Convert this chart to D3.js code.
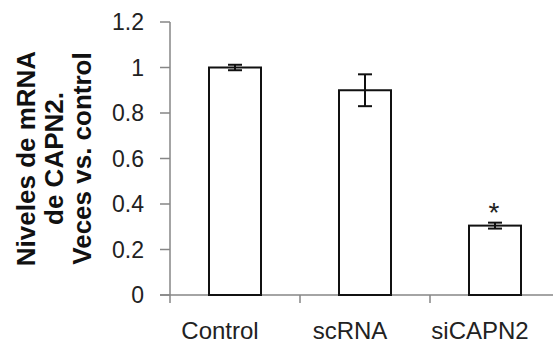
<!DOCTYPE html>
<html>
<head>
<meta charset="utf-8">
<script src="https://cdn.jsdelivr.net/npm/d3@7"></script>
<style>
  body { margin: 0; background: #fff; }
  svg { display: block; font-family: "Liberation Sans", Arial, sans-serif; }
</style>
</head>
<body>
<svg id="chart" width="553" height="346"></svg>
<script>
var categories = ["Control", "scRNA", "siCAPN2"];
var values = [1.0, 0.9, 0.305];
var errors = [0.012, 0.07, 0.013];
var marks = ["", "", "*"];
var yTicks = [0, 0.2, 0.4, 0.6, 0.8, 1, 1.2];
var yLabelLines = ["Niveles de mRNA", "de CAPN2.", "Veces vs. control"];

var svg = d3.select("#chart");
var plotLeft = 170, plotRight = 560, plotTop = 22, plotBottom = 295;

var x = d3.scaleBand().domain(categories).range([plotLeft, plotRight]).padding(0);
var y = d3.scaleLinear().domain([0, 1.2]).range([plotBottom, plotTop]);
var barW = x.bandwidth() * 0.4;
var axisColor = "#868686";

// y axis
svg.append("line")
  .attr("x1", plotLeft).attr("x2", plotLeft)
  .attr("y1", y(1.2)).attr("y2", y(0))
  .attr("stroke", axisColor).attr("stroke-width", 1.5);
yTicks.forEach(function(t){
  svg.append("line")
    .attr("x1", plotLeft - 10).attr("x2", plotLeft)
    .attr("y1", y(t)).attr("y2", y(t))
    .attr("stroke", axisColor).attr("stroke-width", 1.5);
  svg.append("text")
    .attr("x", 144).attr("y", y(t))
    .attr("dy", "0.35em")
    .attr("text-anchor", "end")
    .attr("font-size", "23px")
    .attr("fill", "#222")
    .text(t);
});

// x axis
svg.append("line")
  .attr("x1", plotLeft - 10).attr("x2", 553)
  .attr("y1", y(0)).attr("y2", y(0))
  .attr("stroke", axisColor).attr("stroke-width", 1.5);
categories.forEach(function(c){
  svg.append("line")
    .attr("x1", x(c)).attr("x2", x(c))
    .attr("y1", y(0)).attr("y2", y(0) + 8)
    .attr("stroke", axisColor).attr("stroke-width", 1.5);
  svg.append("text")
    .attr("x", x(c) + x.bandwidth() / 2 - 15)
    .attr("y", 339)
    .attr("text-anchor", "middle")
    .attr("font-size", "24px")
    .attr("fill", "#222")
    .text(c);
});

// bars
categories.forEach(function(c, i){
  var cx = x(c) + x.bandwidth() / 2;
  svg.append("rect")
    .attr("x", cx - barW / 2)
    .attr("y", y(values[i]))
    .attr("width", barW)
    .attr("height", y(0) - y(values[i]))
    .attr("fill", "#fff")
    .attr("stroke", "#111")
    .attr("stroke-width", 2);

  var hi = y(values[i] + errors[i]), lo = y(values[i] - errors[i]);
  svg.append("line")
    .attr("x1", cx).attr("x2", cx).attr("y1", hi).attr("y2", lo)
    .attr("stroke", "#111").attr("stroke-width", 2);
  [hi, lo].forEach(function(v){
    svg.append("line")
      .attr("x1", cx - 7).attr("x2", cx + 7).attr("y1", v).attr("y2", v)
      .attr("stroke", "#111").attr("stroke-width", 2);
  });

  if(marks[i]){
    svg.append("text")
      .attr("x", cx - 1)
      .attr("y", hi - 1)
      .attr("text-anchor", "middle")
      .attr("font-size", "28px")
      .attr("fill", "#222")
      .text(marks[i]);
  }
});

// y label
var yl = svg.append("text")
  .attr("transform", "translate(0," + ((plotTop + plotBottom) / 2) + ") rotate(-90)")
  .attr("text-anchor", "middle")
  .attr("font-size", "26px")
  .attr("font-weight", "bold")
  .attr("fill", "#111");
yLabelLines.forEach(function(l, i){
  yl.append("tspan")
    .attr("x", 0)
    .attr("y", 35 + i * 28)
    .text(l);
});
</script>
</body>
</html>
